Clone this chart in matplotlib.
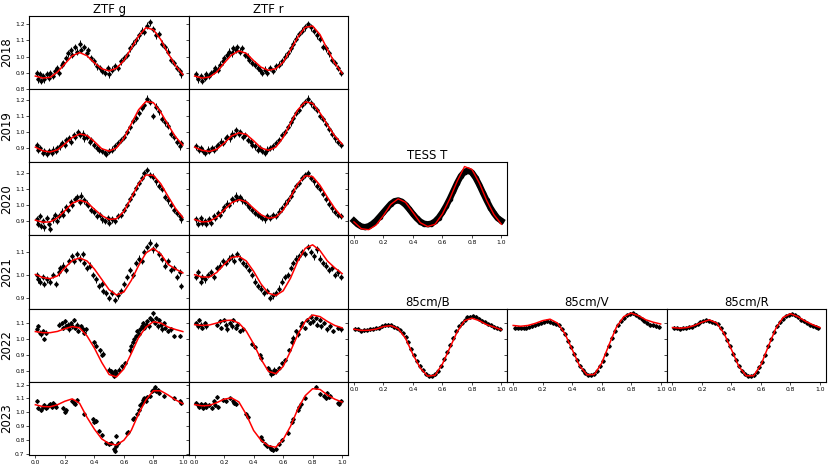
import matplotlib.pyplot as plt
import matplotlib.ticker as ticker

# ── Data ──────────────────────────────────────────────────
# model curves sampled every 0.05 in phase
model_phase = [0.00, 0.05, 0.10, 0.15, 0.20, 0.25, 0.30, 0.35, 0.40, 0.45, 0.50,
               0.55, 0.60, 0.65, 0.70, 0.75, 0.80, 0.85, 0.90, 0.95, 1.00]

g2018_model = [0.880, 0.868, 0.872, 0.905, 0.955, 1.005, 1.025, 1.005, 0.962, 0.925, 0.912,
               0.928, 0.975, 1.050, 1.125, 1.178, 1.165, 1.105, 1.020, 0.945, 0.890]
r2018_model = [0.880, 0.868, 0.874, 0.905, 0.960, 1.010, 1.035, 1.020, 0.975, 0.935, 0.915,
               0.925, 0.965, 1.040, 1.120, 1.180, 1.188, 1.135, 1.045, 0.960, 0.898]
g2019_model = [0.905, 0.882, 0.874, 0.888, 0.925, 0.965, 0.988, 0.978, 0.940, 0.895, 0.880,
               0.900, 0.960, 1.050, 1.140, 1.192, 1.185, 1.125, 1.045, 0.970, 0.918]
r2019_model = [0.905, 0.885, 0.878, 0.892, 0.930, 0.975, 0.995, 0.985, 0.945, 0.900, 0.885,
               0.905, 0.965, 1.055, 1.140, 1.190, 1.180, 1.120, 1.045, 0.975, 0.925]
g2020_model = [0.906, 0.893, 0.895, 0.920, 0.965, 1.012, 1.031, 1.018, 0.975, 0.935, 0.910,
               0.915, 0.960, 1.045, 1.135, 1.190, 1.188, 1.135, 1.055, 0.980, 0.922]
r2020_model = [0.910, 0.895, 0.898, 0.925, 0.970, 1.015, 1.035, 1.022, 0.980, 0.940, 0.918,
               0.925, 0.968, 1.050, 1.135, 1.185, 1.180, 1.125, 1.050, 0.980, 0.925]
tess_model = [0.895, 0.852, 0.846, 0.875, 0.935, 1.005, 1.040, 1.018, 0.955, 0.890, 0.866,
              0.880, 0.945, 1.040, 1.150, 1.243, 1.225, 1.140, 1.030, 0.940, 0.880]
g2021_model = [1.001, 0.988, 0.983, 0.995, 1.030, 1.062, 1.073, 1.060, 1.025, 0.980, 0.935,
               0.912, 0.925, 0.975, 1.040, 1.095, 1.115, 1.090, 1.045, 1.025, 1.008]
r2021_model = [1.000, 0.990, 0.990, 1.010, 1.045, 1.075, 1.080, 1.060, 1.015, 0.960, 0.920,
               0.910, 0.930, 0.985, 1.060, 1.115, 1.130, 1.105, 1.060, 1.030, 1.005]
g2022_model = [1.047, 1.040, 1.040, 1.048, 1.065, 1.078, 1.070, 1.020, 0.945, 0.855, 0.780,
               0.765, 0.815, 0.910, 1.010, 1.075, 1.108, 1.100, 1.075, 1.060, 1.047]
r2022_model = [1.090, 1.085, 1.088, 1.100, 1.115, 1.118, 1.100, 1.050, 0.970, 0.875, 0.800,
               0.785, 0.830, 0.925, 1.030, 1.110, 1.150, 1.140, 1.110, 1.085, 1.070]
b85_model = [1.062, 1.054, 1.055, 1.062, 1.078, 1.084, 1.065, 1.005, 0.905, 0.820, 0.770,
             0.775, 0.845, 0.945, 1.045, 1.115, 1.130, 1.115, 1.090, 1.075, 1.058]
v85_model = [1.085, 1.080, 1.085, 1.098, 1.115, 1.124, 1.100, 1.035, 0.935, 0.835, 0.778,
             0.780, 0.850, 0.965, 1.075, 1.140, 1.162, 1.145, 1.120, 1.105, 1.094]
r85_model = [1.072, 1.068, 1.072, 1.085, 1.105, 1.120, 1.100, 1.035, 0.935, 0.830, 0.772,
             0.772, 0.840, 0.955, 1.065, 1.135, 1.158, 1.140, 1.112, 1.090, 1.072]
g2023_model = [1.055, 1.042, 1.040, 1.055, 1.080, 1.097, 1.065, 0.965, 0.880, 0.810, 0.775,
               0.766, 0.800, 0.870, 0.990, 1.090, 1.155, 1.155, 1.125, 1.090, 1.063]
r2023_model = [1.056, 1.047, 1.050, 1.070, 1.095, 1.104, 1.075, 0.985, 0.870, 0.800, 0.760,
               0.750, 0.805, 0.900, 1.025, 1.120, 1.170, 1.165, 1.125, 1.095, 1.074]

# observed points (phase, normalised flux)
g2018_data = [(.01, .90), (.02, .86), (.03, .89), (.04, .85), (.05, .88), (.06, .86), (.08, .89),
              (.09, .87), (.10, .90), (.12, .88), (.13, .91), (.15, .93), (.16, .90), (.18, .95),
              (.19, .96), (.21, .99), (.22, 1.02), (.24, 1.04), (.25, 1.01), (.27, 1.06), (.28, 1.03),
              (.30, 1.08), (.31, 1.04), (.33, 1.06), (.35, 1.02), (.36, 1.04), (.38, .99), (.40, .97),
              (.42, .94), (.44, .93), (.45, .91), (.47, .90), (.49, .93), (.50, .89), (.52, .92),
              (.54, .94), (.56, .93), (.58, .97), (.60, .99), (.62, 1.01), (.64, 1.05), (.66, 1.08),
              (.68, 1.10), (.70, 1.13), (.72, 1.16), (.74, 1.15), (.76, 1.19), (.78, 1.21), (.80, 1.17),
              (.82, 1.13), (.84, 1.14), (.86, 1.08), (.88, 1.06), (.90, 1.03), (.92, .98), (.94, .96),
              (.96, .93), (.98, .91), (.99, .89)]
r2018_data = [(.01, .89), (.02, .86), (.04, .88), (.05, .85), (.07, .87), (.08, .89), (.10, .88),
              (.11, .90), (.13, .91), (.14, .93), (.16, .92), (.17, .95), (.19, .97), (.20, .99),
              (.22, 1.01), (.23, 1.03), (.25, 1.02), (.26, 1.05), (.28, 1.04), (.29, 1.06), (.31, 1.03),
              (.32, 1.05), (.34, 1.01), (.36, 1.00), (.37, .98), (.39, .96), (.41, .95), (.43, .93),
              (.44, .92), (.46, .90), (.48, .92), (.49, .90), (.51, .93), (.53, .91), (.55, .94),
              (.57, .95), (.59, .97), (.61, 1.00), (.63, 1.02), (.65, 1.05), (.67, 1.08), (.69, 1.11),
              (.71, 1.14), (.73, 1.16), (.75, 1.18), (.77, 1.20), (.79, 1.18), (.81, 1.16), (.83, 1.13),
              (.85, 1.11), (.87, 1.06), (.89, 1.05), (.91, 1.02), (.93, .98), (.95, .96), (.97, .93),
              (.99, .90)]
g2019_data = [(.01, .92), (.02, .89), (.03, .90), (.05, .87), (.06, .88), (.08, .86), (.09, .88),
              (.11, .87), (.12, .89), (.14, .88), (.15, .90), (.17, .91), (.18, .93), (.20, .92),
              (.21, .95), (.23, .96), (.24, .94), (.26, .98), (.27, .97), (.29, 1.00), (.30, .98),
              (.32, .99), (.33, .96), (.35, .97), (.37, .94), (.38, .95), (.40, .92), (.42, .90),
              (.43, .89), (.45, .88), (.47, .87), (.48, .86), (.50, .88), (.52, .89), (.54, .91),
              (.56, .93), (.58, .95), (.60, .97), (.62, 1.00), (.64, 1.03), (.66, 1.07), (.68, 1.09),
              (.70, 1.12), (.72, 1.15), (.74, 1.17), (.76, 1.21), (.78, 1.19), (.80, 1.10), (.82, 1.16),
              (.84, 1.13), (.86, 1.08), (.88, 1.06), (.90, 1.04), (.92, .99), (.94, .97), (.96, .94),
              (.98, .91), (.99, .93)]
r2019_data = [(.01, .91), (.03, .89), (.04, .90), (.06, .88), (.07, .87), (.09, .89), (.10, .88),
              (.12, .90), (.13, .89), (.15, .91), (.16, .92), (.18, .94), (.19, .93), (.21, .96),
              (.22, .97), (.24, .96), (.25, .99), (.27, .98), (.28, 1.01), (.30, .99), (.31, 1.00),
              (.33, .97), (.34, .98), (.36, .95), (.38, .94), (.39, .92), (.41, .91), (.43, .89),
              (.44, .90), (.46, .88), (.48, .87), (.49, .89), (.51, .90), (.53, .91), (.55, .93),
              (.57, .95), (.59, .98), (.61, 1.00), (.63, 1.03), (.65, 1.06), (.67, 1.09), (.69, 1.12),
              (.71, 1.14), (.73, 1.17), (.75, 1.19), (.77, 1.21), (.79, 1.18), (.81, 1.16), (.83, 1.14),
              (.85, 1.10), (.87, 1.08), (.89, 1.05), (.91, 1.02), (.93, .99), (.95, .96), (.97, .94),
              (.99, .92)]
g2020_data = [(.01, .91), (.02, .88), (.03, .93), (.04, .87), (.05, .90), (.06, .86), (.08, .92),
              (.09, .88), (.10, .85), (.12, .91), (.13, .94), (.15, .90), (.16, .93), (.18, .96),
              (.19, .94), (.21, .99), (.22, .97), (.24, 1.02), (.25, 1.00), (.27, 1.04), (.28, 1.05),
              (.30, 1.02), (.31, 1.06), (.33, 1.03), (.35, 1.01), (.36, 1.00), (.38, .97), (.40, .96),
              (.42, .93), (.44, .94), (.45, .91), (.47, .90), (.49, .92), (.50, .89), (.52, .91),
              (.54, .90), (.56, .93), (.58, .94), (.60, .97), (.62, 1.00), (.64, 1.04), (.66, 1.07),
              (.68, 1.11), (.70, 1.14), (.72, 1.17), (.74, 1.20), (.76, 1.22), (.78, 1.19), (.80, 1.18),
              (.82, 1.15), (.84, 1.12), (.86, 1.10), (.88, 1.05), (.90, 1.03), (.92, 1.00), (.94, .97),
              (.96, .95), (.98, .93), (.99, .91)]
r2020_data = [(.01, .91), (.02, .88), (.04, .92), (.05, .89), (.07, .90), (.08, .88), (.10, .91),
              (.11, .89), (.13, .93), (.14, .92), (.16, .95), (.17, .94), (.19, .97), (.20, .99),
              (.22, 1.01), (.23, 1.00), (.25, 1.04), (.26, 1.03), (.28, 1.06), (.29, 1.04), (.31, 1.05),
              (.32, 1.03), (.34, 1.02), (.36, 1.00), (.37, .99), (.39, .97), (.41, .95), (.43, .94),
              (.44, .93), (.46, .92), (.48, .91), (.49, .93), (.51, .92), (.53, .94), (.55, .93),
              (.57, .96), (.59, .98), (.61, 1.01), (.63, 1.03), (.65, 1.06), (.67, 1.09), (.69, 1.12),
              (.71, 1.14), (.73, 1.17), (.75, 1.19), (.77, 1.20), (.79, 1.17), (.81, 1.15), (.83, 1.12),
              (.85, 1.10), (.87, 1.07), (.89, 1.04), (.91, 1.01), (.93, .98), (.95, .96), (.97, .94),
              (.99, .93)]
tess_phase = [0.000, 0.025, 0.050, 0.075, 0.100, 0.125, 0.150, 0.175, 0.200, 0.225, 0.250,
              0.275, 0.300, 0.325, 0.350, 0.375, 0.400, 0.425, 0.450, 0.475, 0.500, 0.525,
              0.550, 0.575, 0.600, 0.625, 0.650, 0.675, 0.700, 0.725, 0.750, 0.775, 0.800,
              0.825, 0.850, 0.875, 0.900, 0.925, 0.950, 0.975, 1.000]
tess_flux = [0.902, 0.880, 0.866, 0.862, 0.868, 0.882, 0.902, 0.928, 0.955, 0.982, 1.008,
             1.025, 1.030, 1.022, 1.002, 0.975, 0.945, 0.918, 0.897, 0.884, 0.880, 0.884,
             0.898, 0.922, 0.955, 0.995, 1.040, 1.090, 1.140, 1.183, 1.210, 1.218, 1.205,
             1.172, 1.128, 1.078, 1.030, 0.985, 0.948, 0.918, 0.902]
g2021_data = [(.01, 1.00), (.02, .98), (.03, .97), (.05, .99), (.06, .96), (.08, .98), (.10, .97),
              (.12, 1.00), (.14, .96), (.16, 1.01), (.17, 1.03), (.19, 1.04), (.21, 1.02), (.23, 1.06),
              (.25, 1.08), (.26, 1.06), (.28, 1.09), (.30, 1.07), (.32, 1.09), (.33, 1.05), (.35, 1.03),
              (.37, 1.04), (.39, 1.00), (.41, .98), (.43, .95), (.45, .96), (.46, .93), (.48, .92),
              (.50, .90), (.52, .92), (.54, .89), (.56, .91), (.58, .93), (.60, .96), (.62, .99),
              (.64, 1.02), (.66, 1.00), (.68, 1.05), (.70, 1.07), (.72, 1.06), (.74, 1.10), (.76, 1.12),
              (.78, 1.14), (.80, 1.11), (.82, 1.13), (.84, 1.09), (.86, 1.07), (.88, 1.04), (.90, 1.06),
              (.92, 1.02), (.94, 1.03), (.96, .99), (.98, 1.01), (.99, .95)]
r2021_data = [(.01, .99), (.02, 1.01), (.04, .97), (.05, .99), (.07, .98), (.09, 1.00), (.11, 1.01),
              (.13, .99), (.15, 1.03), (.17, 1.04), (.19, 1.06), (.21, 1.05), (.23, 1.07), (.25, 1.08),
              (.27, 1.06), (.29, 1.09), (.31, 1.07), (.33, 1.05), (.35, 1.04), (.37, 1.02), (.39, 1.00),
              (.41, .97), (.43, .95), (.45, .94), (.47, .92), (.49, .93), (.51, .90), (.53, .91),
              (.55, .92), (.57, .94), (.59, .97), (.61, .99), (.63, 1.00), (.65, 1.03), (.67, 1.05),
              (.69, 1.07), (.71, 1.08), (.73, 1.10), (.75, 1.09), (.77, 1.12), (.79, 1.10), (.81, 1.08),
              (.83, 1.11), (.85, 1.07), (.87, 1.05), (.89, 1.04), (.91, 1.02), (.93, 1.03), (.95, 1.00),
              (.97, 1.01), (.99, .99)]
g2022_data = [(.01, 1.06), (.02, 1.08), (.03, 1.04), (.04, 1.03), (.05, 1.05), (.06, 1.00), (.07, 1.04),
              (.16, 1.09), (.18, 1.10), (.19, 1.07), (.20, 1.11), (.21, 1.08), (.22, 1.09), (.23, 1.06),
              (.24, 1.10), (.25, 1.08), (.26, 1.12), (.27, 1.07), (.28, 1.09), (.29, 1.05), (.31, 1.08),
              (.32, 1.06), (.33, 1.04), (.34, 1.06), (.40, .98), (.41, .96), (.44, .93), (.45, .90),
              (.46, .91), (.50, .81), (.51, .80), (.52, .79), (.53, .77), (.54, .80), (.55, .79),
              (.57, .81), (.59, .83), (.61, .85), (.64, .93), (.65, .96), (.66, .98), (.67, 1.00),
              (.68, 1.02), (.69, 1.05), (.70, 1.03), (.71, 1.06), (.72, 1.08), (.73, 1.10), (.74, 1.07),
              (.75, 1.09), (.76, 1.11), (.77, 1.08), (.78, 1.13), (.79, 1.12), (.80, 1.16), (.81, 1.10),
              (.82, 1.13), (.83, 1.08), (.84, 1.12), (.85, 1.09), (.86, 1.06), (.87, 1.10), (.88, 1.07),
              (.90, 1.05), (.92, 1.06), (.94, 1.02), (.98, 1.02)]
r2022_data = [(.01, 1.10), (.02, 1.08), (.03, 1.12), (.04, 1.09), (.05, 1.07), (.07, 1.10), (.08, 1.08),
              (.15, 1.09), (.17, 1.11), (.18, 1.07), (.20, 1.12), (.21, 1.09), (.22, 1.06), (.24, 1.10),
              (.25, 1.08), (.26, 1.12), (.28, 1.07), (.29, 1.09), (.31, 1.05), (.33, 1.06), (.39, .97),
              (.41, .95), (.44, .90), (.45, .88), (.50, .82), (.51, .80), (.52, .78), (.53, .79),
              (.54, .81), (.55, .80), (.57, .82), (.59, .85), (.61, .87), (.64, .93), (.66, .98),
              (.67, 1.01), (.69, 1.05), (.70, 1.03), (.72, 1.08), (.73, 1.10), (.75, 1.07), (.76, 1.12),
              (.78, 1.10), (.79, 1.14), (.80, 1.11), (.82, 1.13), (.83, 1.09), (.85, 1.12), (.86, 1.08),
              (.88, 1.10), (.90, 1.06), (.92, 1.08), (.94, 1.05), (.97, 1.07), (.99, 1.06)]
b85_data = [(.01, 1.065), (.03, 1.060), (.05, 1.050), (.07, 1.055), (.09, 1.058), (.11, 1.060),
            (.13, 1.062), (.15, 1.068), (.17, 1.072), (.19, 1.080), (.21, 1.085), (.23, 1.090),
            (.25, 1.085), (.27, 1.078), (.29, 1.070), (.31, 1.055), (.33, 1.035), (.35, 1.015),
            (.37, .980), (.39, .940), (.41, .900), (.43, .865), (.45, .835), (.47, .805), (.49, .785),
            (.51, .770), (.53, .770), (.55, .780), (.57, .800), (.59, .835), (.61, .875), (.63, .920),
            (.65, .965), (.67, 1.010), (.69, 1.050), (.71, 1.080), (.73, 1.100), (.75, 1.120),
            (.77, 1.135), (.79, 1.140), (.81, 1.145), (.83, 1.140), (.85, 1.128), (.87, 1.115),
            (.89, 1.105), (.91, 1.095), (.93, 1.085), (.95, 1.077), (.97, 1.070), (.99, 1.063)]
v85_data = [(.01, 1.072), (.03, 1.070), (.05, 1.068), (.07, 1.070), (.09, 1.072), (.11, 1.075),
            (.13, 1.080), (.15, 1.085), (.17, 1.095), (.19, 1.100), (.21, 1.108), (.23, 1.110),
            (.25, 1.108), (.27, 1.100), (.29, 1.095), (.31, 1.085), (.33, 1.060), (.35, 1.030),
            (.37, .990), (.39, .950), (.41, .910), (.43, .870), (.45, .835), (.47, .805), (.49, .788),
            (.51, .778), (.53, .776), (.55, .782), (.57, .800), (.59, .830), (.61, .865), (.63, .910),
            (.65, .960), (.67, 1.005), (.69, 1.050), (.71, 1.085), (.73, 1.110), (.75, 1.130),
            (.77, 1.148), (.79, 1.158), (.81, 1.160), (.83, 1.152), (.85, 1.140), (.87, 1.125),
            (.89, 1.112), (.91, 1.100), (.93, 1.090), (.95, 1.085), (.97, 1.080), (.99, 1.078)]
r85_data = [(.01, 1.072), (.03, 1.068), (.05, 1.066), (.07, 1.068), (.09, 1.070), (.11, 1.073),
            (.13, 1.078), (.15, 1.085), (.17, 1.095), (.19, 1.105), (.21, 1.112), (.23, 1.116),
            (.25, 1.115), (.27, 1.108), (.29, 1.100), (.31, 1.095), (.33, 1.070), (.35, 1.035),
            (.37, .995), (.39, .955), (.41, .910), (.43, .870), (.45, .830), (.47, .800), (.49, .785),
            (.51, .772), (.53, .770), (.55, .775), (.57, .795), (.59, .825), (.61, .860), (.63, .900),
            (.65, .955), (.67, 1.000), (.69, 1.045), (.71, 1.080), (.73, 1.105), (.75, 1.128),
            (.77, 1.145), (.79, 1.150), (.81, 1.155), (.83, 1.148), (.85, 1.135), (.87, 1.122),
            (.89, 1.110), (.91, 1.100), (.93, 1.090), (.95, 1.083), (.97, 1.077), (.99, 1.072)]
g2023_data = [(.01, 1.08), (.02, 1.03), (.04, 1.02), (.05, 1.04), (.06, 1.05), (.07, 1.03), (.08, 1.04),
              (.09, 1.05), (.10, 1.06), (.11, 1.04), (.12, 1.07), (.13, 1.05), (.14, 1.04), (.19, 1.03),
              (.20, 1.00), (.21, 1.02), (.25, 1.08), (.26, 1.07), (.27, 1.06), (.28, 1.09), (.33, .99),
              (.39, .95), (.40, .93), (.41, .94), (.43, .87), (.45, .84), (.48, .78), (.50, .77),
              (.51, .78), (.53, .74), (.54, .72), (.545, .83), (.55, .76), (.56, .78), (.62, .85),
              (.63, .86), (.66, .95), (.67, .96), (.69, .99), (.70, 1.02), (.71, 1.05), (.72, 1.07),
              (.73, 1.09), (.74, 1.10), (.75, 1.08), (.76, 1.11), (.78, 1.12), (.79, 1.15), (.80, 1.16),
              (.81, 1.18), (.82, 1.15), (.83, 1.16), (.84, 1.14), (.87, 1.12), (.94, 1.10), (.98, 1.08),
              (.99, 1.07)]
r2023_data = [(.01, 1.07), (.02, 1.05), (.03, 1.04), (.04, 1.06), (.05, 1.05), (.06, 1.03), (.07, 1.06),
              (.08, 1.04), (.10, 1.05), (.12, 1.03), (.13, 1.08), (.14, 1.05), (.15, 1.11), (.16, 1.04),
              (.19, 1.09), (.21, 1.08), (.24, 1.10), (.26, 1.08), (.27, 1.07), (.28, 1.06), (.35, .99),
              (.36, .97), (.45, .82), (.46, .80), (.48, .77), (.49, .76), (.51, .75), (.52, .74),
              (.53, .73), (.55, .74), (.57, .77), (.59, .80), (.63, .85), (.66, .93), (.67, .95),
              (.70, 1.02), (.71, 1.04), (.72, 1.06), (.75, 1.10), (.82, 1.18), (.85, 1.13), (.88, 1.12),
              (.89, 1.10), (.90, 1.14), (.91, 1.11), (.92, 1.12), (.97, 1.07), (.98, 1.06), (.99, 1.08)]

years = ['2018', '2019', '2020', '2021', '2022', '2023']
row_ylim = [(0.80, 1.25), (0.81, 1.27), (0.81, 1.27), (0.853, 1.171), (0.735, 1.19), (0.695, 1.22)]

# (row, col, title, data, model, error, show x labels)
panels = [
    (0, 0, 'ZTF g', g2018_data, g2018_model, 0.02, False),
    (0, 1, 'ZTF r', r2018_data, r2018_model, 0.02, False),
    (1, 0, None, g2019_data, g2019_model, 0.02, False),
    (1, 1, None, r2019_data, r2019_model, 0.02, False),
    (2, 0, None, g2020_data, g2020_model, 0.02, False),
    (2, 1, None, r2020_data, r2020_model, 0.02, False),
    (3, 0, None, g2021_data, g2021_model, 0.014, False),
    (3, 1, None, r2021_data, r2021_model, 0.014, False),
    (4, 0, None, g2022_data, g2022_model, 0.014, False),
    (4, 1, None, r2022_data, r2022_model, 0.014, False),
    (4, 2, '85cm/B', b85_data, b85_model, 0.008, True),
    (4, 3, '85cm/V', v85_data, v85_model, 0.008, True),
    (4, 4, '85cm/R', r85_data, r85_model, 0.008, True),
    (5, 0, None, g2023_data, g2023_model, 0.014, True),
    (5, 1, None, r2023_data, r2023_model, 0.014, True),
]

# ── Figure ────────────────────────────────────────────────
fig = plt.figure(figsize=(8.3, 4.68), dpi=100)
gs = fig.add_gridspec(6, 5, left=0.0355, right=0.995, top=0.966, bottom=0.028,
                      hspace=0, wspace=0)


def style_axis(ax, row, col, show_x):
    ax.set_xlim(-0.04, 1.04)
    ax.set_ylim(*row_ylim[row])
    ax.xaxis.set_major_locator(ticker.MultipleLocator(0.2))
    ax.xaxis.set_major_formatter(ticker.FormatStrFormatter('%.1f'))
    ax.yaxis.set_major_locator(ticker.MultipleLocator(0.1))
    ax.yaxis.set_major_formatter(ticker.FormatStrFormatter('%.1f'))
    ax.tick_params(labelsize=4.3, length=2, width=0.5, pad=1.5)
    if not show_x:
        ax.tick_params(labelbottom=False)
    if col != 0:
        ax.tick_params(labelleft=False)
    else:
        ax.set_ylabel(years[row], fontsize=8.5)
        ax.yaxis.set_label_coords(-0.105, 0.5)
    for sp in ax.spines.values():
        sp.set_linewidth(0.8)


for row, col, title, data, model, err, show_x in panels:
    ax = fig.add_subplot(gs[row, col])
    ph = [p for p, f in data]
    fl = [f for p, f in data]
    ax.errorbar(ph, fl, yerr=err, fmt='D', color='black', ms=1.8, elinewidth=0.7,
                capsize=0, zorder=2)
    ax.plot(model_phase, model, color='red', lw=1.1, zorder=3)
    if title:
        ax.set_title(title, fontsize=8.5, pad=2)
    style_axis(ax, row, col, show_x)

# TESS panel: very dense photometry, drawn as a thick band
ax = fig.add_subplot(gs[2, 2])
ax.plot(tess_phase, tess_flux, color='black', lw=4.5, marker='o', ms=3, zorder=2)
ax.plot(model_phase, tess_model, color='red', lw=1.0, zorder=3)
ax.set_title('TESS T', fontsize=8.5, pad=2)
style_axis(ax, 2, 2, True)

fig.savefig('out.png', dpi=100)
